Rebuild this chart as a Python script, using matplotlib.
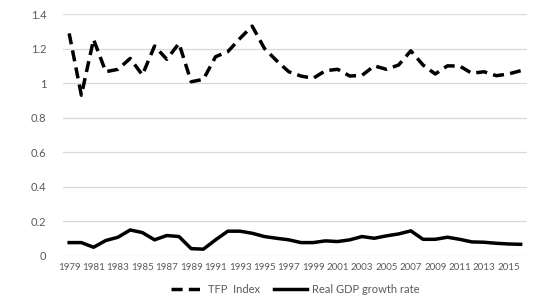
import matplotlib.pyplot as plt

YEARS = list(range(1979, 2017))
TFP_INDEX = [1.288, 0.93, 1.253, 1.066, 1.08, 1.143, 1.047, 1.215, 1.138, 1.23,
             1.008, 1.022, 1.153, 1.182, 1.259, 1.33, 1.201, 1.13, 1.066, 1.041,
             1.028, 1.072, 1.08, 1.041, 1.045, 1.10, 1.08, 1.105, 1.187, 1.105,
             1.053, 1.10, 1.099, 1.057, 1.066, 1.043, 1.053, 1.072]
GDP_GROWTH = [0.077, 0.077, 0.05, 0.089, 0.108, 0.150, 0.135, 0.093, 0.118, 0.112,
              0.042, 0.039, 0.093, 0.143, 0.143, 0.131, 0.112, 0.102, 0.093, 0.077,
              0.077, 0.087, 0.083, 0.093, 0.112, 0.102, 0.116, 0.127, 0.145, 0.096,
              0.096, 0.108, 0.096, 0.081, 0.079, 0.073, 0.069, 0.067]
Y_TICKS = [0, 0.2, 0.4, 0.6, 0.8, 1, 1.2, 1.4]
Y_LABELS = ["0", "0.2", "0.4", "0.6", "0.8", "1", "1.2", "1.4"]

plt.rcParams["font.family"] = ["Lato", "DejaVu Sans"]
TEXT = "#595959"

fig = plt.figure(figsize=(5.58, 3.05), dpi=100)
ax = fig.add_axes([0.113, 0.161, 0.831, 0.793])

ax.plot(YEARS, TFP_INDEX, color="black", lw=2.5, dashes=(3.2, 1.8), label="TFP  Index")
ax.plot(YEARS, GDP_GROWTH, color="black", lw=2.5, label="Real GDP growth rate")

ax.set_xlim(YEARS[0] - 0.5, YEARS[-1] + 0.5)
ax.set_ylim(0, 1.4)
ax.set_yticks(Y_TICKS, Y_LABELS)
ax.set_xticks(YEARS[::2], [str(y) for y in YEARS[::2]])
ax.tick_params(axis="both", length=0, colors=TEXT)
ax.tick_params(axis="y", labelsize=8, pad=12)
ax.tick_params(axis="x", labelsize=7, pad=5)
ax.grid(axis="y", color="#d9d9d9", lw=0.9)
ax.set_axisbelow(True)
for spine in ax.spines.values():
    spine.set_visible(False)

leg = ax.legend(loc="upper center", bbox_to_anchor=(0.5, -0.075), ncol=2, frameon=False,
                fontsize=8, handlelength=3.0, handletextpad=0.4, columnspacing=1.2)
for text in leg.get_texts():
    text.set_color(TEXT)

fig.savefig("out.png", dpi=100)
